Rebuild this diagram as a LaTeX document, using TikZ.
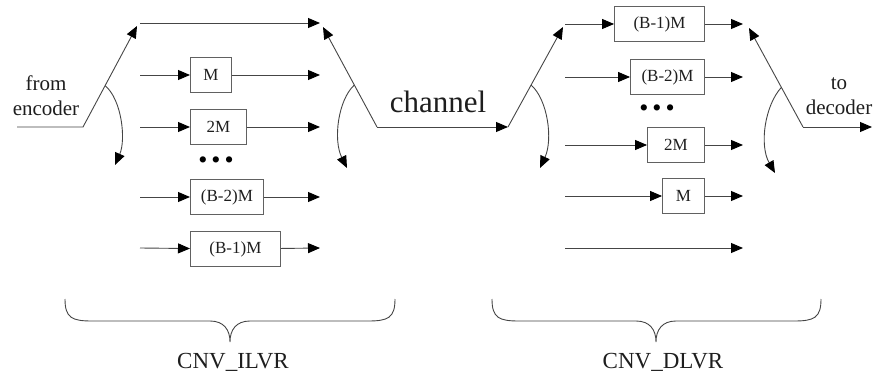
\documentclass[tikz,border=0pt]{standalone}
\usepackage{fontspec}
\setmainfont{Liberation Serif}
\usetikzlibrary{arrows.meta,positioning,calc}
\definecolor{wiregray}{HTML}{454545}
\definecolor{ink}{HTML}{1E1E1E}
\tikzset{
  wire/.style={draw=wiregray, line width=0.9pt},
  arr/.style={wire, -{Triangle[length=12pt,width=10pt,color=black,fill=black]}},
  delaybox/.style={draw=wiregray!85, line width=0.9pt, minimum height=35pt,
                   inner sep=2pt, text=ink, font=\fontsize{17}{19}\selectfont},
  lbl/.style={text=ink, font=\fontsize{21}{25}\selectfont, align=center, inner sep=0pt},
  dotsl/.style={text=black, font=\fontsize{26}{28}\selectfont, inner sep=0pt}}

\begin{document}
\begin{tikzpicture}[x=1pt, y=-1pt]
  \useasboundingbox (0,0) rectangle (873,377);
  % interleaver: switches
  \coordinate (inL) at (17,127);
  \coordinate (pivL1) at (83,127);
  \coordinate (armL1) at (137,26);
  \coordinate (pivL2) at (377,127);
  \coordinate (armL2) at (323,27);
  \draw[arr] (inL) -- (pivL1) -- (armL1);
  \draw[arr] (pivL2) -- (armL2);
  \node[lbl] (fromenc) at (46,96) {from\\encoder};
  % interleaver: delay lines
  \coordinate (lt0) at (140,23);  \coordinate (lt1) at (320,23);
  \coordinate (la0) at (140,75);  \coordinate (la1) at (320,75);
  \coordinate (lb0) at (140,127); \coordinate (lb1) at (320,127);
  \coordinate (lc0) at (140,197); \coordinate (lc1) at (320,197);
  \coordinate (ld0) at (140,248); \coordinate (ld1) at (320,248);
  \node[delaybox, anchor=west, minimum width=41pt] (lM) at (190,75) {M};
  \node[delaybox, anchor=west, minimum width=56pt] (l2M) at (190,127) {2M};
  \node[delaybox, anchor=west, minimum width=73pt] (lB2M) at (190,197) {(B-2)M};
  \node[delaybox, anchor=west, minimum width=90pt] (lB1M) at (190,249) {(B-1)M};
  \node[dotsl] (ldots) at (216,163) {\textbullet\hspace{4pt}\textbullet\hspace{4pt}\textbullet};
  \draw[arr] (lt0) -- (lt1);
  \draw[arr] (la0) -- (lM);   \draw[arr] (lM) -- (la1);
  \draw[arr] (lb0) -- (l2M);  \draw[arr] (l2M) -- (lb1);
  \draw[arr] (lc0) -- (lB2M); \draw[arr] (lB2M) -- (lc1);
  \draw[arr] (ld0) -- (lB1M); \draw[arr] (lB1M) -- (ld1);
  % interleaver: rotation of the switches
  \coordinate (rotL1a) at ($(pivL1)!0.41!(armL1)$);
  \coordinate (rotL1b) at (115,165);
  \coordinate (rotL2a) at ($(pivL2)!0.42!(armL2)$);
  \coordinate (rotL2b) at (347,168);
  \draw[arr] (rotL1a) .. controls (122,100) and (126,140) .. (rotL1b);
  \draw[arr] (rotL2a) .. controls (338,100) and (333,140) .. (rotL2b);
  % channel
  \coordinate (pivR1) at (508,127);
  \draw[arr] (pivL2) -- (pivR1);
  \node[text=ink, font=\fontsize{31}{33}\selectfont, inner sep=0pt, anchor=base] (chan) at (438,113) {channel};
  % deinterleaver: switches
  \coordinate (armR1) at (563,27);
  \coordinate (pivR2) at (803,127);
  \coordinate (armR2) at (749,28);
  \coordinate (outR) at (872,127);
  \draw[arr] (pivR1) -- (armR1);
  \draw[arr] (pivR2) -- (armR2);
  \draw[arr] (pivR2) -- (outR);
  \node[lbl] (todec) at (839,96) {to\\decoder};
  % deinterleaver: delay lines
  \coordinate (rt0) at (565,24);  \coordinate (rt1) at (743,24);
  \coordinate (ra0) at (565,77);  \coordinate (ra1) at (743,77);
  \coordinate (rb0) at (565,145); \coordinate (rb1) at (743,145);
  \coordinate (rc0) at (565,196); \coordinate (rc1) at (743,196);
  \coordinate (rd0) at (565,248); \coordinate (rd1) at (743,248);
  \node[delaybox, anchor=east, minimum width=90pt] (rB1M) at (705,24) {(B-1)M};
  \node[delaybox, anchor=east, minimum width=74pt] (rB2M) at (705,77) {(B-2)M};
  \node[delaybox, anchor=east, minimum width=57pt] (r2M) at (705,145) {2M};
  \node[delaybox, anchor=east, minimum width=42pt] (rM) at (705,196) {M};
  \node[dotsl] (rdots) at (657,111) {\textbullet\hspace{4pt}\textbullet\hspace{4pt}\textbullet};
  \draw[arr] (rt0) -- (rB1M); \draw[arr] (rB1M) -- (rt1);
  \draw[arr] (ra0) -- (rB2M); \draw[arr] (rB2M) -- (ra1);
  \draw[arr] (rb0) -- (r2M);  \draw[arr] (r2M) -- (rb1);
  \draw[arr] (rc0) -- (rM);   \draw[arr] (rM) -- (rc1);
  \draw[arr] (rd0) -- (rd1);
  % deinterleaver: rotation of the switches
  \coordinate (rotR1a) at ($(pivR1)!0.42!(armR1)$);
  \coordinate (rotR1b) at (540,168);
  \coordinate (rotR2a) at ($(pivR2)!0.40!(armR2)$);
  \coordinate (rotR2b) at (775,173);
  \draw[arr] (rotR1a) .. controls (548,100) and (553,140) .. (rotR1b);
  \draw[arr] (rotR2a) .. controls (765,105) and (759,145) .. (rotR2b);
  % braces
  \draw[wire] (65,299) .. controls (65,318) and (72,321) .. (92,321) -- (210,321)
    .. controls (224,321) and (230,330) .. (230,342)
    .. controls (230,330) and (236,321) .. (250,321) -- (368,321)
    .. controls (388,321) and (395,318) .. (395,299);
  \draw[wire] (492,299) .. controls (492,318) and (499,321) .. (519,321) -- (636,321)
    .. controls (650,321) and (656,330) .. (656,342)
    .. controls (656,330) and (662,321) .. (676,321) -- (794,321)
    .. controls (814,321) and (821,318) .. (821,299);
  \node[text=ink, font=\fontsize{23}{25}\selectfont, inner sep=0pt, anchor=base] (ilvr) at (233,368) {CNV\_ILVR};
  \node[text=ink, font=\fontsize{23}{25}\selectfont, inner sep=0pt, anchor=base] (dlvr) at (663,368) {CNV\_DLVR};
\end{tikzpicture}
\end{document}
